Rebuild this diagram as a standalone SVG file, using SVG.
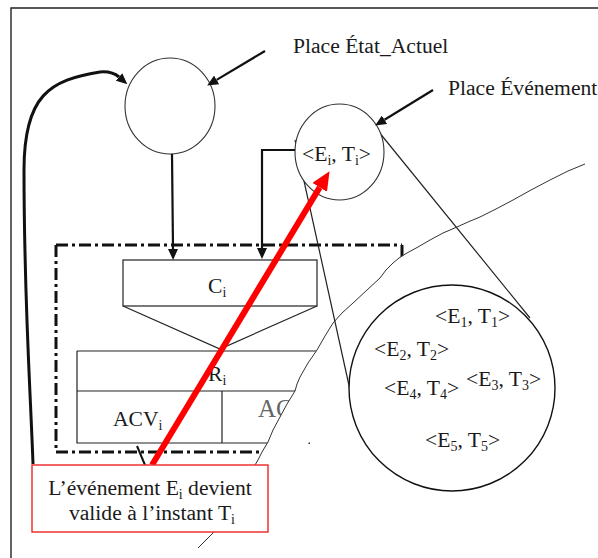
<svg xmlns="http://www.w3.org/2000/svg" width="598" height="558" viewBox="0 0 598 558">
<style>
text{font-family:"Liberation Serif","Times New Roman",serif;font-size:21.6px;fill:#1a1a1a}
.sub{font-size:14px}
.thin{fill:none;stroke:#222;stroke-width:1.2}
.place{fill:#fff;stroke:#333;stroke-width:1.1}
.dd{fill:none;stroke:#111;stroke-width:3;stroke-dasharray:12 4 3 4}
.arr{fill:none;stroke:#111;stroke-width:2.2;marker-end:url(#ah)}
</style>
<defs>
<marker id="ah" markerUnits="userSpaceOnUse" markerWidth="11" markerHeight="10" refX="0" refY="5" orient="auto" viewBox="0 0 11 10">
<path d="M0,0 L11,5 L0,10 z" fill="#111"/>
</marker>
<marker id="rh" markerUnits="userSpaceOnUse" markerWidth="19" markerHeight="17" refX="0" refY="8.5" orient="auto" viewBox="0 0 19 17">
<path d="M0,0 L19,8.5 L0,17 z" fill="#f00"/>
</marker>
</defs>
<rect width="598" height="558" fill="#fff"/>
<g id="frame">
<path d="M11,558 V8 H598" fill="none" stroke="#222" stroke-width="1.4"/>
</g>
<g id="transition">
<path class="dd" d="M56,245 H402"/>
<path class="dd" d="M402,245 V470"/>
<path class="dd" d="M56,245 V452"/>
<path class="dd" d="M56,452 H402"/>
<rect id="guard-c" x="123" y="260" width="194" height="46" class="thin" fill="#fff"/>
<text x="208" y="293">C<tspan class="sub" dy="4">i</tspan></text>
<path class="thin" d="M123,306 L220,349 L317,306"/>
<path class="thin" d="M77,351 H420 M77,351 V443 H420 M77,391 H420 M222,391 V443"/>
<text x="208" y="381">R<tspan class="sub" dy="4">i</tspan></text>
<text x="113" y="426">ACV<tspan class="sub" dy="4">i</tspan></text>
<text x="258" y="417" style="font-size:25px;fill:#666">AC</text>
</g>
<g id="torn-edge">
<path d="M585,164 L568,171 L550,180 L531,190 L513,200 L496,209 L480,217 L468,222 L457,227 L443,233 L430,240 L418,247 L407,253 L399,258 L393,263 L386,270 L380,278 L367,290 L353,303 L342,313 L333,323 L325,336 L317,350 L308,363 L300,377 L297,384 L295,391 L287,404 L280,417 L273,430 L268,442 L262,452 L258,460 L252,470 L240,492 L226,512 L213,533 L205,541 L198,548 L198,558 L598,558 L598,164 Z" fill="#fff" stroke="none"/>
<path d="M585,164 L568,171 L550,180 L531,190 L513,200 L496,209 L480,217 L468,222 L457,227 L443,233 L430,240 L418,247 L407,253 L399,258 L393,263 L386,270 L380,278 L367,290 L353,303 L342,313 L333,323 L325,336 L317,350 L308,363 L300,377 L297,384 L295,391 L287,404 L280,417 L273,430 L268,442 L262,452 L258,460 L252,470 L240,492 L226,512 L213,533 L205,541 L198,548" fill="none" stroke="#333" stroke-width="1"/>
<rect x="308.5" y="442.5" width="1.5" height="1.5" fill="#333"/>
</g>
<g id="zoom-lens">
<path class="thin" d="M295,140 L350,390 M370,121 L530,318"/>
<circle cx="452" cy="388" r="103" fill="#fff" stroke="#111" stroke-width="1.4"/>
<text x="435" y="323">&lt;E<tspan class="sub" dy="4">1</tspan><tspan dy="-4">, T</tspan><tspan class="sub" dy="4">1</tspan><tspan dy="-4">&gt;</tspan></text>
<text x="374" y="356">&lt;E<tspan class="sub" dy="4">2</tspan><tspan dy="-4">, T</tspan><tspan class="sub" dy="4">2</tspan><tspan dy="-4">&gt;</tspan></text>
<text x="466" y="386">&lt;E<tspan class="sub" dy="4">3</tspan><tspan dy="-4">, T</tspan><tspan class="sub" dy="4">3</tspan><tspan dy="-4">&gt;</tspan></text>
<text x="384" y="395">&lt;E<tspan class="sub" dy="4">4</tspan><tspan dy="-4">, T</tspan><tspan class="sub" dy="4">4</tspan><tspan dy="-4">&gt;</tspan></text>
<text x="425" y="447">&lt;E<tspan class="sub" dy="4">5</tspan><tspan dy="-4">, T</tspan><tspan class="sub" dy="4">5</tspan><tspan dy="-4">&gt;</tspan></text>
</g>
<g id="place-etat-actuel">
<ellipse cx="170" cy="106" rx="45" ry="48" class="place"/>
<text x="293" y="53">Place État_Actuel</text>
</g>
<g id="place-evenement">
<ellipse cx="339.5" cy="152" rx="44.5" ry="48" class="place"/>
<text x="302" y="161">&lt;E<tspan class="sub" dy="4">i</tspan><tspan dy="-4">, T</tspan><tspan class="sub" dy="4">i</tspan><tspan dy="-4">&gt;</tspan></text>
<text x="448" y="95">Place Événement</text>
</g>
<g id="connectors">
<path class="arr" d="M172,154 L173,249"/>
<path class="arr" d="M295,150 H262 V248"/>
<path class="arr" d="M265,51 L216.6,79.9"/>
<path class="arr" d="M433,90 L384.5,119.8"/>
<path class="arr" style="stroke-width:3" d="M33,464 C30,380 24,300 24,170 C24,95 50,80 100,72 Q112,71 119,77"/>
<path d="M137,446 L145,465" stroke="#111" stroke-width="2"/>
<path d="M152,465 L319.7,187.4" stroke="#f00" stroke-width="6" fill="none" marker-end="url(#rh)"/>
</g>
<g id="label">
<rect x="32" y="465" width="236" height="67" fill="#fff" stroke="#e33" stroke-width="1.5"/>
<text x="150" y="495" text-anchor="middle">L’événement E<tspan class="sub" dy="4">i</tspan><tspan dy="-4"> devient</tspan></text>
<text x="152" y="520" text-anchor="middle">valide à l’instant T<tspan class="sub" dy="4">i</tspan></text>
</g>
</svg>
